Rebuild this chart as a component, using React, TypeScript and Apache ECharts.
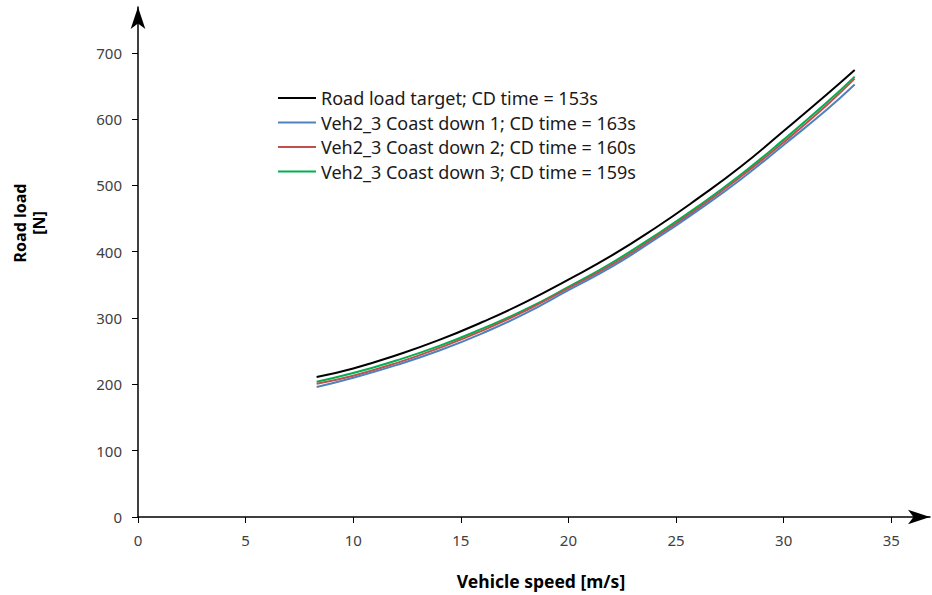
import React, { useEffect, useRef } from "react";
import * as echarts from "echarts";

const speeds = [8.3, 10, 12, 14, 16, 18, 20, 22, 24, 26, 28, 30, 32, 33.3];
const targetLoad = [211, 224, 244, 267, 294, 324, 358, 394, 435, 480, 528, 582, 637, 674];
const coast1Load = [196, 210, 229, 251, 277, 307, 342, 377, 418, 462, 509, 561, 614, 652];
const coast2Load = [201, 213, 232, 255, 281, 311, 345, 380, 421, 465, 513, 565, 621, 661];
const coast3Load = [204, 217, 236, 258, 284, 313, 347, 383, 424, 468, 516, 569, 625, 664];

const seriesNames = [
  "Road load target; CD time = 153s",
  "Veh2_3 Coast down 1; CD time = 163s",
  "Veh2_3 Coast down 2; CD time = 160s",
  "Veh2_3 Coast down 3; CD time = 159s",
];
const xTicks = [0, 5, 10, 15, 20, 25, 30, 35];
const yTicks = [0, 100, 200, 300, 400, 500, 600, 700];

const FONT = "Noto Sans";

export default function App() {
  const ref = useRef<HTMLDivElement>(null);
  useEffect(() => {
    if (!ref.current) return;
    const chart = echarts.init(ref.current, null, { renderer: "svg" });
    const colors = ["#000000", "#4F81BD", "#C0504D", "#00B050"];
    const values = [targetLoad, coast1Load, coast2Load, coast3Load];
    const mk = (i: number) => ({
      name: seriesNames[i],
      type: "line",
      smooth: true,
      showSymbol: false,
      symbol: "none",
      data: speeds.map((s, k) => [s, values[i][k]]),
      lineStyle: { color: colors[i], width: 2 },
      itemStyle: { color: colors[i] },
      z: 10 - i,
    });
    chart.setOption({
      animation: false,
      grid: { left: 138, right: 2, top: 7, bottom: 78, containLabel: false },
      legend: {
        orient: "vertical",
        left: 273,
        top: 84,
        icon: "rect",
        itemWidth: 38,
        itemHeight: 2,
        itemGap: 6.5,
        textStyle: { fontFamily: FONT, fontSize: 18, color: "#1a1a1a" },
        data: seriesNames,
      },
      xAxis: {
        type: "value",
        min: 0,
        max: 36.8,
        interval: 5,
        splitLine: { show: false },
        axisLine: {
          show: true,
          symbol: ["none", "arrow"],
          symbolSize: [11, 22],
          lineStyle: { color: "#000", width: 1.5 },
        },
        axisTick: { show: true, length: 6, customValues: xTicks, lineStyle: { color: "#000", width: 1 } },
        axisLabel: {
          customValues: xTicks,
          margin: 15,
          fontFamily: FONT,
          fontSize: 15,
          color: "#404040",
        },
      },
      yAxis: {
        type: "value",
        min: 0,
        max: 769,
        interval: 100,
        splitLine: { show: false },
        axisLine: {
          show: true,
          symbol: ["none", "arrow"],
          symbolSize: [11, 22],
          lineStyle: { color: "#000", width: 1.5 },
        },
        axisTick: { show: true, length: 6, customValues: yTicks, lineStyle: { color: "#000", width: 1 } },
        axisLabel: {
          customValues: yTicks,
          margin: 16,
          fontFamily: FONT,
          fontSize: 15,
          color: "#404040",
        },
      },
      graphic: [
        {
          type: "text",
          x: 541,
          y: 581,
          style: {
            text: "Vehicle speed [m/s]",
            align: "center",
            verticalAlign: "middle",
            fontFamily: FONT,
            fontWeight: "bold",
            fontSize: 17.5,
            fill: "#000",
          },
        },
        {
          type: "text",
          x: 29,
          y: 223,
          rotation: Math.PI / 2,
          style: {
            text: "Road load\n[N]",
            align: "center",
            verticalAlign: "middle",
            lineHeight: 19,
            fontFamily: FONT,
            fontWeight: "bold",
            fontSize: 16,
            fill: "#000",
          },
        },
      ],
      series: [mk(0), mk(1), mk(2), mk(3)],
    });
    return () => chart.dispose();
  }, []);
  return (
    <div
      ref={ref}
      style={{ position: "absolute", left: 0, top: 0, width: 932, height: 595 }}
    />
  );
}
